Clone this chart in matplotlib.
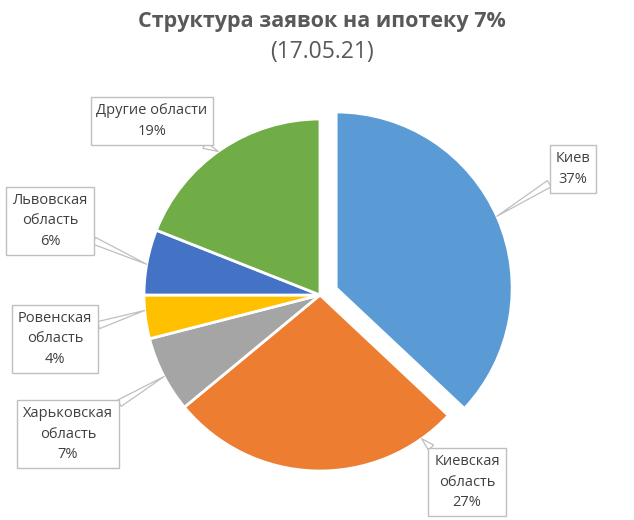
import numpy as np
import matplotlib
matplotlib.use("Agg")
import matplotlib.pyplot as plt

categories = ["Киев", "Киевская\nобласть", "Харьковская\nобласть", "Ровенская\nобласть",
              "Львовская\nобласть", "Другие области"]
values = [37, 27, 7, 4, 6, 19]
colors = ["#5B9BD5", "#ED7D31", "#A5A5A5", "#FFC000", "#4472C4", "#70AD47"]
explode = [0.1, 0, 0, 0, 0, 0]
# label box centres (figure pixels, from top-left)
label_pos = [(573, 169), (467, 482), (68, 434), (55, 339), (50, 221), (152, 121)]

W, H = 634, 520
fig = plt.figure(figsize=(W / 100, H / 100), dpi=100)
FONT = ["Open Sans", "DejaVu Sans"]

cx_px, cy_px, r_px = 320, 225, 176
lim = 1.3
size = 2 * lim * r_px
ax = fig.add_axes([(cx_px - size / 2) / W, (cy_px - size / 2) / H, size / W, size / H])
ax.axis("off")

wedges, _ = ax.pie(values, colors=colors, explode=explode, startangle=90, counterclock=False,
                   radius=1, wedgeprops=dict(edgecolor="white", linewidth=2))
ax.set_xlim(-lim, lim)
ax.set_ylim(-lim, lim)
ax.set_aspect("equal")

anns = []
for w, cat, val, (lx, ly) in zip(wedges, categories, values, label_pos):
    ann = ax.annotate(f"{cat}\n{val}%", xy=w.center, xycoords="data",
                      xytext=(lx, H - ly), textcoords="figure pixels",
                      ha="center", va="center", fontsize=10.5, color="#404040",
                      family=FONT, linespacing=1.5,
                      bbox=dict(boxstyle="square,pad=0.4", fc="white", ec="#BFBFBF", lw=1),
                      arrowprops=dict(arrowstyle="wedge,tail_width=0.5,shrink_factor=0.5",
                                      fc="white", ec="#BFBFBF", lw=0.9,
                                      shrinkA=0, shrinkB=0))
    anns.append(ann)

fig.canvas.draw()
inv = ax.transData.inverted()
for w, ann in zip(wedges, anns):
    ext = ann.get_bbox_patch().get_window_extent()
    cx, cy = w.center
    cpx, cpy = ax.transData.transform((cx, cy))
    # nearest point of the label box to the wedge centre
    nx = min(max(cpx, ext.x0), ext.x1)
    ny = min(max(cpy, ext.y0), ext.y1)
    dx, dy = inv.transform((nx, ny))
    t1, t2 = w.theta1, w.theta2
    ang = np.degrees(np.arctan2(dy - cy, dx - cx))
    while ang < t1:
        ang += 360
    while ang >= t1 + 360:
        ang -= 360
    margin = min(0.35 * (t2 - t1), 10)
    lo, hi = t1 + margin, t2 - margin
    if ang > t2:
        ang = hi if (ang - t2) < (t1 + 360 - ang) else lo
    ang = min(max(ang, lo), hi)
    a = np.radians(ang)
    ann.xy = (cx + w.r * np.cos(a), cy + w.r * np.sin(a))

fig.text(322 / W, 1 - 21 / H, "Структура заявок на ипотеку 7%", ha="center", va="center",
         fontsize=15.5, fontweight="bold", color="#595959", family=FONT)
fig.text(322 / W, 1 - 52 / H, "(17.05.21)", ha="center", va="center",
         fontsize=16.5, color="#595959", family=FONT)

fig.savefig("out.png", dpi=100)
